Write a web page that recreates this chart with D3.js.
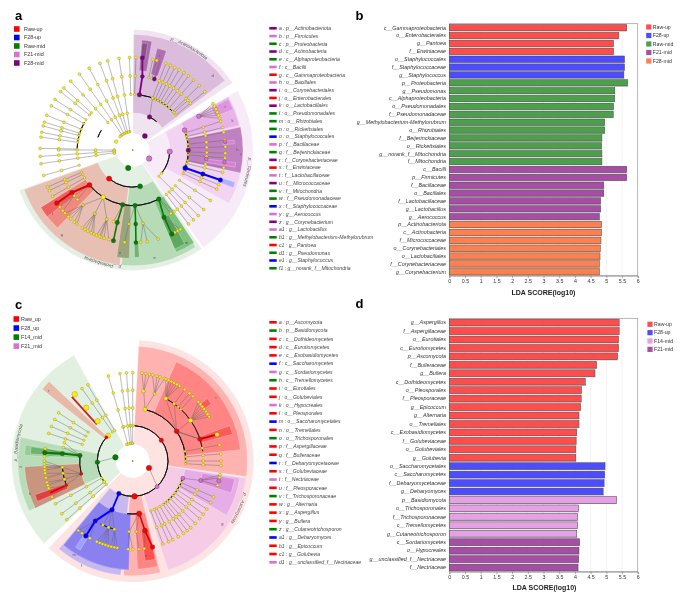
<!DOCTYPE html>
<html><head><meta charset="utf-8">
<script src="https://cdn.jsdelivr.net/npm/d3@7"></script>
<style>html,body{margin:0;padding:0;background:#fff}svg{display:block;filter:blur(0.3px)}text{font-family:"Liberation Sans",Arial,sans-serif}</style>
</head><body><div id="chart"></div>
<script>
// ---- colours
const RED="#ff0000",BLUE="#0000ff",GREEN="#008000",PINK="#da70d6",PURPLE="#800080",YEL="#ffee00";
const colorOf={R:RED,B:BLUE,G:GREEN,P:PINK,U:PURPLE};
// ---- panel b
const namesB=["c__Gammaproteobacteria","o__Enterobacterales","g__Pantoea","f__Erwiniaceae","o__Staphylococcales","f__Staphylococcaceae","g__Staphylococcus","p__Proteobacteria","g__Pseudomonas","c__Alphaproteobacteria","o__Pseudomonadales","f__Pseudomonadaceae","g__Methylobacterium-Methylorubrum","o__Rhizobiales","f__Beijerinckiaceae","o__Rickettsiales","g__norank_f__Mitochondria","f__Mitochondria","c__Bacilli","p__Firmicutes","f__Bacillaceae","o__Bacillales","f__Lactobacillaceae","g__Lactobacillus","g__Aerococcus","p__Actinobacteriota","c__Actinobacteria","f__Micrococcaceae","o__Corynebacteriales","o__Lactobacillales","f__Corynebacteriaceae","g__Corynebacterium"];
const valuesB=[5.65,5.40,5.23,5.23,5.58,5.58,5.56,5.68,5.27,5.27,5.23,5.22,4.95,4.95,4.86,4.85,4.86,4.86,5.65,5.65,4.92,4.92,4.82,4.82,4.78,4.85,4.85,4.83,4.81,4.80,4.78,4.78];
const groupsB="RRRRBBBGGGGGGGGGGGUUUUUUUOOOOOOO".slice(0,32);
const legendB=[["Raw-up","R"],["F28-up","B"],["Raw-mid","G"],["F21-mid","U"],["F28-mid","O"]];
// ---- panel d
const namesD=["g__Aspergillus","f__Aspergillaceae","o__Eurotiales","c__Eurotiomycetes","p__Ascomycota","f__Bulleraceae","g__Bullera","c__Dothideomycetes","o__Pleosporales","f__Pleosporaceae","g__Epicoccum","g__Alternaria","o__Tremellales","c__Exobasidiomycetes","f__Golubeviaceae","o__Golubeviales","g__Golubevia","o__Saccharomycetales","c__Saccharomycetes","f__Debaryomycetaceae","g__Debaryomyces","p__Basidiomycota","o__Trichosporonales","f__Trichosporonaceae","c__Tremellomycetes","g__Cutaneotrichosporon","c__Sordariomycetes","o__Hypocreales","g__unclassified_f__Nectriaceae","f__Nectriaceae"];
const valuesD=[5.41,5.41,5.39,5.39,5.36,4.69,4.64,4.33,4.21,4.20,4.18,4.13,4.13,4.06,4.04,4.03,4.03,4.96,4.95,4.93,4.90,5.33,4.12,4.09,4.09,4.06,4.15,4.13,4.12,4.10];
const groupsD="RRRRRRRRRRRRRRRRRBBBBLLLLLUUUU";
const legendD=[["Raw-up","R"],["F28-up","B"],["F14-mid","L"],["F21-mid","U"]];
const barColors={R:"#ff4d4d",B:"#4d4dff",G:"#4d9f4d",U:"#a64da6",O:"#ff7f4d",L:"#e6a1e6"};
const ticks=[0,0.5,1,1.5,2,2.5,3,3.5,4,4.5,5,5.5,6];
// ---- cladogram legends
const legendA=[["Raw-up","R"],["F28-up","B"],["Raw-mid","G"],["F21-mid","P"],["F28-mid","U"]];
const legendC=[["Raw_up","R"],["F28_up","B"],["F14_mid","G"],["F21_mid","P"]];
const keyA=[["a : p__Actinobacteriota","U"],["b : p__Firmicutes","P"],["c : p__Proteobacteria","G"],["d : c__Actinobacteria","U"],["e : c__Alphaproteobacteria","G"],["f : c__Bacilli","P"],["g : c__Gammaproteobacteria","R"],["h : o__Bacillales","P"],["i : o__Corynebacteriales","U"],["j : o__Enterobacterales","R"],["k : o__Lactobacillales","U"],["l : o__Pseudomonadales","G"],["m : o__Rhizobiales","G"],["n : o__Rickettsiales","G"],["o : o__Staphylococcales","B"],["p : f__Bacillaceae","P"],["q : f__Beijerinckiaceae","G"],["r : f__Corynebacteriaceae","U"],["s : f__Erwiniaceae","R"],["t : f__Lactobacillaceae","P"],["u : f__Micrococcaceae","U"],["v : f__Mitochondria","G"],["w : f__Pseudomonadaceae","G"],["x : f__Staphylococcaceae","B"],["y : g__Aerococcus","P"],["z : g__Corynebacterium","U"],["a1 : g__Lactobacillus","P"],["b1 : g__Methylobacterium-Methylorubrum","G"],["c1 : g__Pantoea","R"],["d1 : g__Pseudomonas","G"],["e1 : g__Staphylococcus","B"],["f1 : g__norank_f__Mitochondria","G"]];
const keyC=[["a : p__Ascomycota","R"],["b : p__Basidiomycota","G"],["c : c__Dothideomycetes","R"],["d : c__Eurotiomycetes","R"],["e : c__Exobasidiomycetes","R"],["f : c__Saccharomycetes","B"],["g : c__Sordariomycetes","P"],["h : c__Tremellomycetes","G"],["i : o__Eurotiales","R"],["j : o__Golubeviales","R"],["k : o__Hypocreales","P"],["l : o__Pleosporales","R"],["m : o__Saccharomycetales","B"],["n : o__Tremellales","R"],["o : o__Trichosporonales","G"],["p : f__Aspergillaceae","R"],["q : f__Bulleraceae","R"],["r : f__Debaryomycetaceae","B"],["s : f__Golubeviaceae","R"],["t : f__Nectriaceae","P"],["u : f__Pleosporaceae","R"],["v : f__Trichosporonaceae","G"],["w : g__Alternaria","R"],["x : g__Aspergillus","R"],["y : g__Bullera","R"],["z : g__Cutaneotrichosporon","G"],["a1 : g__Debaryomyces","B"],["b1 : g__Epicoccum","R"],["c1 : g__Golubevia","R"],["d1 : g__unclassified_f__Nectriaceae","P"]];
// ---- cladogram a: angle degrees clockwise from north, depth in taxonomic rings
const sectorsA=[[0.5,56,0.9,6.5,"#f0e4f0"],[0.5,53,2,6.24,"#dcbcdc"],[4.7,10,4.3,5.95,"#a86ca8"],[5,8,5,5.8,"#8d4f8d"],[13.5,18.8,4.2,5.65,"#b070b0"],
[60.5,144,0.9,6.5,"#f7ebf7"],[61,119,2,5.95,"#f2d4f2"],[61,77,3,5.9,"#e8b4e8"],[62,68,4.8,5.85,"#dd96dd"],[78,102,3,5.95,"#c081c0"],[97,99.5,4,5.6,"#d880d8"],[84.5,86.5,4.9,5.5,"#d880d8"],[107.5,110.5,5,5.8,"#b0b0ff"],
[145,250.5,0.9,6.5,"#e4f0e4"],[147,185.6,2,6.24,"#b7dab7"],[186.4,250,2,6.24,"#e8bfb3"],[181.8,188.5,3,5.85,"#9aa57c"],[146.5,157,3,6,"#80c080"],[151,157,4,5.8,"#60a860"],[176.5,179,4.9,5.8,"#6fb56f"],[224,238,3,5.85,"#f08a80"],[232,238,4,5.85,"#f06060"]];
const spokesA=[[-8.5,1,5],[-15.7,1,5],[-20.7,1,5],[-28,1,5],[-35,1,5],[-42,2,5],[-48,3,5],[-51,3,5],[-57,3,5],[-61.5,3,5],[-68,3,5],[-72.5,3,5],[-75,3,5],[-79,3,5],[-82,3,5],[-89,3,5],[-94,1,5],[-98.5,1,5],[-90,1,4],[-106,3,5],
[2,3,5],[-2,3,5],[12.5,4,5],[15,4,5],[21,3,5],[24,3,5],[27,3,5],[30,3,5],[33.5,3,5],[37,3,5],[41,3,5],[46,3,5],[51,3,5],[48,3,4],
[72,3,5],[76,3,5],[79,3,5],[84,3,5],[88,3,5],[92,3,5],[95,3,5],[101,3,5],[104,3,5],[112,3,5],[115,3,5],[123,3,5],[130,3,5],[135,2,5],[139,3,5],[143,3,5],
[240,3,5],[244,3,5],[246.5,3,5]];
const fansA=[[4,63,5,[60,62,64,66,68,70]],[3,212,4,[200.5,210.7,222]],[3,231,4,[228,232]],[4,200.5,5,[195,198,200,201,203]],[4,210.7,5,[205,206.6,209,211,213]],[4,222,5,[217,219,222,224,227]],[4,232,5,[229,232,235]],[3,177.6,4,[172,183]],[4,172,5,[164,171,175]],[4,183,5,[185]],[3,190.4,4,[195]],[3,152,4,[149,146]],[4,155,5,[153,149,151]],[2,27,3,[21]]];
const arcsA=[[2,-70,-58,1.4],[3,-88,-60,1.4],[2,92,129,1.4],[3,69,109,1.4],[2,168.5,219.5,1.4],[3,152,231,1.4],[3,7,48,1.4],[2,27,40,1.4]];
const thickA=[[7,3,7.5,4,"#800080",1.8],[7.5,4,6,5,"#800080",1.8],[17,3.9,17,5,"#a060a0",1.8],[108.9,3,108.9,4,"#0000ff",2],[108.9,4,108.9,5,"#0000ff",2],[231,3,235,4,"#e00000",2],[235,4,235,5,"#e00000",2],[190.4,3,192,4,"#008000",1.6],[192,4,192,5,"#008000",1.6],[177.6,3,177.7,4,"#008000",1.6],[177.7,4,178,5,"#008000",1.6],[152,3,155,4,"#008000",1.6],[155,4,155,5,"#008000",1.6]];
const nodesA=[[41,1,"U",2.5],[117.5,1,"P",2.7],[194,1,"G",2.7],[27,2,"U",2.3],[92.5,2,"P",2.7],[219.5,2,"R",2.6],[168.5,2,"G",2.5],[7,3,"U",2.3],[69,3,"P",2.4],[90.3,3,"U",2.2],[108.9,3,"B",2.5],[231,3,"R",2.5],[190.4,3,"G",2.3],[177.6,3,"G",2.2],[152,3,"G",2.3],[7.5,4,"U",2],[17,4,"U",2],[63,4,"P",2.2],[97,4,"P",1.8],[108.9,4,"B",2.3],[235,4,"R",2.3],[192,4,"G",2.2],[177.7,4,"G",2],[155,4,"G",2.2],[6,5,"U",2.2],[85,5,"P",1.8],[97.5,5,"P",1.8],[108.9,5,"B",2.3],[235,5,"R",2.3],[192,5,"G",2.2],[178,5,"G",2],[155,5,"G",2.3]];
const yellowA=[[212,3,2.3],[-13,1,1.3],[-21,1,1.3],[-27,1,1.3],[-33,1,1.3],[-39,1,1.3],[-43,1,1.3],[-63,1,1.9],[-90,1,1.4],[-94,1,1.4],[129,2,1.4],[-100,1,1.4]];
const bandA=[[29,"p__Actinobacteriota",6.27],[101,"p__Firmicutes",6.27],[195,"p__Proteobacteria",6.27]];
const lettersA=[[47,5.9,"d"],[6,5.55,"i"],[16,5.3,"r"],[92.5,5.85,"f"],[74,5.6,"k"],[65,5.5,"t"],[168.5,5.95,"e"],[220,5.95,"g"],[187,5.6,"n"],[232,5.5,"j"],[150,5.8,"m"],[90,5.65,"h"]];
// ---- cladogram c
const sectorsC=[[3,224,0.95,6.85,"#fde3e1"],[3,97.8,2,6.5,"#ffb3b0"],[23.7,84,3,6.13,"#ff8484"],[70,75,4,5.85,"#ff5a5a"],[50,54,5,5.5,"#ff5a5a"],
[98.6,162,2,6.5,"#f5cbe5"],[99,120,3,6.13,"#e6aee6"],[100,108,4,5.85,"#d88ed8"],[166,184.6,2,6.5,"#ffb3b0"],[166.6,177.5,3,6.13,"#ff8484"],[167,173,4,5.7,"#ff5050"],
[186,220,2,6.5,"#c8b8ee"],[182,219.5,3,6.17,"#8a80f0"],[210.5,213.5,5,5.85,"#a0a0ff"],
[227,331,0.95,6.85,"#e2f0e2"],[244.2,282,2,6.5,"#b8dcb8"],[273,278.5,3,6.13,"#96cc96"],[274,278,4,5.8,"#6cb46c"],[244.1,267,3,6.13,"#c8957f"],[247,251,4,5.85,"#e04040"],[308.4,313.6,2,6.53,"#e8b8a8"]];
const spokesC=[[-16,1,5],[-8.3,1,5],[-4,1,5],[0,1,5],[36,4,5],[40,4,5],[43,4,5],[79.5,3,5],[85.4,3,5],[90,3,5],[93,3,5],[114,3,5],[118,3,5],[123,3,5],[127,3,5],[130.7,3,5],[135,3,5],[139,3,5],[142,3,5],[145,3,5],[149,3,5],[153,3,5],[156,3,5],[160,3,5],[-71.8,3,5],[-67,3,5],[-57,3,5],[-62,3,5],[-119,2,5],[-126.6,2,5],[-131.7,2,5],[-35,2,5],[-30.5,2,5]];
const fansC=[[3,13.4,4,[9,18]],[4,9,5,[6,8.5,11]],[4,18,5,[13,16,18,21]],[3,56,4,[28,36,55,72]],[4,28,5,[22,24,26,28,30,32]],[4,55,5,[48,50,52,54,56,58,60]],[3,109,4,[106]],[4,106,5,[99,101,106]],[3,173,4,[177,183]],[4,183,5,[183,180]],[4,177,5,[176]],[4,170,5,[172.5]],[3,203,4,[195,200,205]],[4,212,5,[215,218,209]],[4,200,5,[196,198,200,202,204]],[4,195,5,[190,192,194]],[3,-84,4,[-79,-75]],[4,-84,5,[-82,-87]],[3,-104,4,[-95,-100,-105,-110]],[4,-95,5,[-90,-92,-94,-96]],[4,-100,5,[-98,-101]],[4,-105,5,[-104,-106]],[4,-110,5,[-108,-114]],[1,-78,2,[-92]],[1,113,2,[136]]];
const arcsC=[[2,3,203,1.4],[3,13,93,1.4],[3,109,144,1.4],[3,173,186,1.4],[4,28,82,1],[2,-126,-48,1.4],[3,-104,-84,1.2],[4,-110,-95,1.2],[4,194,207,1]];
const thickC=[[72,4,72.6,5,"#d00000",2],[56,3,72,4,"#555",0.5],[173,3,170,4,"#e00000",1.6],[170,4,167,5,"#e00000",1.6],[203,2,203,3,"#0000ff",1.8],[203,3,212,4,"#0000ff",2],[212,4,212,5,"#0000ff",2],[-84,3,-84,4,"#008000",2],[-84,4,-84.6,5,"#008000",2],[-110,4,-111,5,"#e00000",1.6],[-44.5,2.9,-43.5,5,"#d02020",1.8]];
const nodesC=[[113,1,"R",2.7],[-78,1,"G",2.8],[54,2,"R",2.2],[136.5,2,"P",2],[177,2,"R",2.8],[203,2,"B",2.3],[-92,2,"G",2.3],[-48,2,"R",1.6],[56,3,"R",2.4],[109,3,"P",2],[173,3,"R",2.7],[203,3,"B",2.4],[-84,3,"G",2.2],[-104,3,"R",1.6],[72,4,"R",2.2],[106,4,"P",2],[170,4,"R",2.5],[212,4,"B",2.2],[-84,4,"G",2.2],[-110,4,"R",1.4],[103,5,"P",2],[167,5,"R",2.3],[212,5,"B",2.4],[-84.6,5,"G",2.2]];
const yellowC=[[72.6,5,2.2],[-41,5,2.8],[-41,4,2.7],[-41.4,3,2.7],[-44,2,2.6],[13.4,3,2.1],[28,4,2],[55,4,2.3],[8.7,4,1.8],[-126,2,1.6],[-3,1,1.3],[-20,1,1.3],[-8,1,1.2],[-14,1,1.2],[-3,2,1.2],[-14,2,1.2]];
const bandC=[[114,"p__Ascomycota",6.55],[-81,"p__Basidiomycota",6.55]];
const lettersC=[[53,5.9,"i"],[125,6.2,"g"],[206,6.6,"f"],[212,6.25,"m"],[172,5.45,"n"],[-108,6.1,"h"],[-93,6.35,"n"],[-50,6.2,"r"]];

const W=685,H=599;
const svg=d3.select("#chart").append("svg").attr("width",W).attr("height",H);
const rad=d3.scaleLinear().domain([0,360]).range([0,2*Math.PI]);

function cladogram(cx,cy,ringPx,sect,spokes,fans,arcs,thick,nodes,yellow,band,letters,tag){
  const g=svg.append("g").attr("transform",`translate(${cx},${cy})`);
  const rS=d3.scaleLinear().domain([0,5]).range([0,ringPx*5]);
  const pt=(a,r)=>d3.pointRadial(rad(a),rS(r));
  const arcGen=d3.arc();
  g.selectAll(".s").data(sect).join("path").attr("fill",d=>d[4]).attr("stroke","#fff").attr("stroke-width",0.25)
    .attr("d",d=>arcGen({startAngle:rad(d[0]),endAngle:rad(d[1]),innerRadius:rS(d[2]),outerRadius:rS(d[3])}));
  const edges=[];
  spokes.forEach(s=>edges.push([s[0],s[1],s[0],s[2]]));
  fans.forEach(f=>f[3].forEach(a=>edges.push([f[1],f[0],a,f[2]])));
  const line=d3.line();
  g.selectAll(".e").data(edges).join("path").attr("fill","none").attr("stroke","#666").attr("stroke-width",0.45)
    .attr("d",d=>line([pt(d[0],d[1]),pt(d[2],d[3])]));
  g.selectAll(".t").data(thick).join("path").attr("fill","none").attr("stroke",d=>d[4]).attr("stroke-width",d=>d[5])
    .attr("d",d=>line([pt(d[0],d[1]),pt(d[2],d[3])]));
  g.selectAll(".a").data(arcs).join("path").attr("fill","none").attr("stroke","#111").attr("stroke-width",d=>d[3]*0.7)
    .attr("d",d=>d3.arc()({startAngle:rad(d[1]),endAngle:rad(d[2]),innerRadius:rS(d[0]),outerRadius:rS(d[0])}));
  const dots=[];
  spokes.forEach(s=>{for(let r=s[1];r<=s[2];r++)dots.push([s[0],r,r===s[1]?1.2:1.45]);});
  fans.forEach(f=>{dots.push([f[1],f[0],1.35]);f[3].forEach(a=>dots.push([a,f[2],1.45]));});
  yellow.forEach(y=>dots.push(y));
  g.selectAll(".y").data(dots).join("circle").attr("fill",YEL).attr("stroke","#666").attr("stroke-width",0.3)
    .attr("r",d=>d[2]).attr("cx",d=>pt(d[0],d[1])[0]).attr("cy",d=>pt(d[0],d[1])[1]);
  g.selectAll(".n").data(nodes).join("circle").attr("fill",d=>colorOf[d[2]]).attr("stroke","#333").attr("stroke-width",0.35)
    .attr("r",d=>d[3]).attr("cx",d=>pt(d[0],d[1])[0]).attr("cy",d=>pt(d[0],d[1])[1]);
  g.append("circle").attr("r",0.9).attr("fill","#9a9a30");
  band.forEach((b,i)=>{
    const id=`${tag}${i}`, r=rS(b[2]);
    const p0=pt(b[0]-60,b[2]),p1=pt(b[0]+60,b[2]);
    g.append("path").attr("id",id).attr("fill","none").attr("d",`M${p0[0]},${p0[1]}A${r},${r} 0 0 1 ${p1[0]},${p1[1]}`);
    g.append("text").attr("font-size",4.6).attr("font-style","italic").attr("fill","#555").attr("text-anchor","middle")
      .append("textPath").attr("href","#"+id).attr("startOffset","50%").text(b[1]);
  });
  g.selectAll(".l").data(letters).join("text").attr("font-size",4).attr("fill","#555").attr("text-anchor","middle").attr("dominant-baseline","middle")
    .attr("x",d=>pt(d[0],d[1])[0]).attr("y",d=>pt(d[0],d[1])[1]).text(d=>d[2]);
}
cladogram(132.7,150,18.53,sectorsA,spokesA,fansA,arcsA,thickA,nodesA,yellowA,bandA,lettersA,"ba");
cladogram(132.7,461,17.67,sectorsC,spokesC,fansC,arcsC,thickC,nodesC,yellowC,bandC,lettersC,"bc");

function smallLegend(x,y0,dy,items,colors,size,tx,fs){
  const g=svg.append("g");
  const y=d3.scaleLinear().domain([0,1]).range([y0,y0+dy]);
  g.selectAll("rect").data(items).join("rect").attr("x",x).attr("y",(d,i)=>y(i)-size/2).attr("width",size).attr("height",size).attr("fill",d=>colors[d[1]]);
  g.selectAll("text").data(items).join("text").attr("x",tx).attr("y",(d,i)=>y(i)).attr("dy","0.35em").attr("font-size",fs).attr("fill","#333").text(d=>d[0]);
}
smallLegend(14,29,8.5,legendA,colorOf,5.6,24,5.4);
smallLegend(13.5,319,9.05,legendC,colorOf,5.6,21,5.4);
smallLegend(646.2,27,8.5,legendB,barColors,5.2,652.8,5.2);
smallLegend(647.4,324.3,8.35,legendD,barColors,5.2,654,5.2);

function keyList(y0,dy,items){
  const g=svg.append("g");
  const y=d3.scaleLinear().domain([0,1]).range([y0,y0+dy]);
  g.selectAll("rect").data(items).join("rect").attr("x",269.3).attr("y",(d,i)=>y(i)-1.3).attr("width",7.4).attr("height",2.6).attr("fill",d=>colorOf[d[1]]);
  g.selectAll("text").data(items).join("text").attr("x",279).attr("y",(d,i)=>y(i)).attr("dy","0.35em").attr("font-size",5.1).attr("font-style","italic").attr("fill","#444").text(d=>d[0]);
}
keyList(28.3,7.74,keyA);
keyList(322.3,8.276,keyC);

function bars(top,bottom,names,vals,groups,titleY,titleX){
  const g=svg.append("g");
  const x=d3.scaleLinear().domain([0,6]).range([449.3,637.7]);
  const y=d3.scaleBand().domain(names).range([top,bottom]).paddingInner(0.2).paddingOuter(0.1);
  ticks.slice(1,-1).forEach(t=>g.append("line").attr("x1",x(t)).attr("x2",x(t)).attr("y1",top).attr("y2",bottom).attr("stroke","#ccc").attr("stroke-width",0.6).attr("stroke-dasharray","0.8 1.2"));
  g.append("rect").attr("x",x(0)).attr("y",top).attr("width",x(6)-x(0)).attr("height",bottom-top).attr("fill","none").attr("stroke","#999").attr("stroke-width",0.7);
  const bh=y.bandwidth();
  g.selectAll(".sh").data(names).join("rect").attr("x",x(0)).attr("y",d=>y(d)+bh-0.3).attr("width",(d,i)=>x(vals[i])-x(0)+0.6).attr("height",1).attr("fill","#bbb");
  g.selectAll(".b").data(names).join("rect").attr("x",x(0)).attr("y",d=>y(d)).attr("width",(d,i)=>x(vals[i])-x(0)).attr("height",bh)
    .attr("fill",(d,i)=>barColors[groups[i]]).attr("stroke","#444").attr("stroke-width",0.5);
  g.selectAll(".lab").data(names).join("text").attr("x",446).attr("y",d=>y(d)+bh/2).attr("dy","0.35em").attr("text-anchor","end").attr("font-size",5.4).attr("font-style","italic").attr("fill","#333").text(d=>d);
  const ax=g.append("g").attr("transform",`translate(0,${bottom})`).call(d3.axisBottom(x).tickValues(ticks).tickSize(2.5).tickPadding(1.2).tickFormat(d3.format("~g")));
  ax.select(".domain").attr("stroke","#888").attr("stroke-width",0.7);
  ax.selectAll("line").attr("stroke","#666").attr("stroke-width",0.5);
  ax.selectAll("text").attr("font-size",5.3).attr("fill","#333").attr("font-family","Liberation Sans");
  g.append("text").attr("x",titleX).attr("y",titleY).attr("text-anchor","middle").attr("font-size",7).attr("font-weight","bold").attr("fill","#222").text("LDA SCORE(log10)");
}
bars(23.7,275.7,namesB,valuesB,groupsB,295,543.5);
bars(318.3,571.7,namesD,valuesD,groupsD,590,544.5);

[["a",15,20],["b",355.5,19.5],["c",15,309],["d",355.5,308]].forEach(l=>
  svg.append("text").attr("x",l[1]).attr("y",l[2]).attr("font-size",13).attr("font-weight","bold").attr("fill","#000").text(l[0]));
</script></body></html>
